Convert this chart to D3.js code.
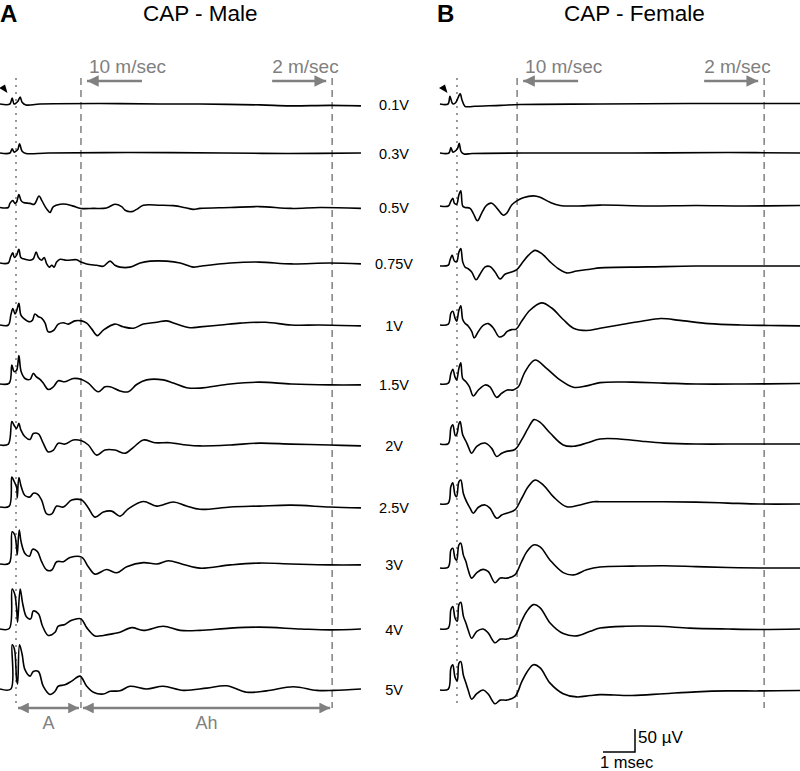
<!DOCTYPE html>
<html><head><meta charset="utf-8">
<script src="https://cdn.jsdelivr.net/npm/d3@7"></script>
<style>body{margin:0;background:#fff}svg{display:block;font-family:"Liberation Sans",Arial,sans-serif}</style>
</head><body>
<script>
// ---------- DATA (time in ms, amplitude in µV) ----------
const voltages = ["0.1V","0.3V","0.5V","0.75V","1V","1.5V","2V","2.5V","3V","4V","5V"];
const maleTraces = [
 [[0,0],[0.31,0],[0.38,13],[0.44,0],[0.5,2],[0.56,6],[0.63,15],[0.69,4],[0.81,-2],[1.25,0],[3.13,1],[5,0],[6.25,0],[8.13,-2],[9.06,-4],[10.31,-3],[11.28,-4]],
 [[0,0],[0.31,0],[0.38,9],[0.44,2],[0.5,4],[0.56,8],[0.61,20],[0.69,4],[0.81,-1],[1.5,0],[4,1],[7,0],[9,-1],[11.28,0]],
 [[0,0],[0.26,0],[0.31,9],[0.4,15],[0.47,9],[0.52,12],[0.59,28],[0.66,15],[0.73,11],[0.94,9],[1.07,7],[1.22,25],[1.3,16],[1.41,2],[1.49,-6],[1.56,-11],[1.67,2],[1.88,7],[2.08,7],[2.29,3],[2.53,-2],[2.92,-2],[3.33,-1],[3.59,7],[3.8,2],[3.91,-6],[4.12,-9],[4.27,-4],[4.48,5],[5,5],[5.42,4],[5.83,-1],[6.04,-4],[6.25,-2],[7.2,0],[8.1,2],[9.1,-2],[10,0],[11.28,-2]],
 [[0,0],[0.26,0],[0.33,13],[0.4,22],[0.45,12],[0.52,17],[0.59,30],[0.65,12],[0.73,9],[0.94,6],[1.04,9],[1.13,24],[1.2,12],[1.3,6],[1.38,12],[1.46,-2],[1.54,-9],[1.62,-5],[1.69,-9],[1.77,2],[1.88,8],[2.08,6],[2.4,7],[2.53,2],[2.71,-2],[3.02,-5],[3.23,-7],[3.44,4],[3.59,-5],[3.75,-9],[4.06,-9],[4.38,0],[4.69,4],[5.21,4],[5.63,0],[6.04,-9],[6.25,-7],[7.2,0],[8.1,2],[9.1,-2],[10.3,0],[11.28,-2]],
 [[0,0],[0.26,0],[0.34,22],[0.4,36],[0.47,24],[0.52,31],[0.59,47],[0.65,22],[0.73,15],[0.94,7],[1.02,11],[1.09,24],[1.2,18],[1.3,15],[1.41,4],[1.51,-15],[1.67,-12],[1.82,2],[1.98,5],[2.13,2],[2.34,9],[2.55,9],[2.71,4],[2.87,-9],[3.04,-23],[3.23,-11],[3.59,2],[3.85,-4],[4.17,-7],[4.48,2],[4.9,6],[5.21,9],[5.52,2],[5.94,-6],[6.25,-4],[6.9,0],[7.5,4],[8.3,6],[9.1,0],[10,0],[11.28,-2]],
 [[0,0],[0.29,2],[0.37,41],[0.44,27],[0.52,30],[0.59,62],[0.66,27],[0.78,12],[0.94,10],[1.04,23],[1.13,16],[1.25,10],[1.35,2],[1.51,-12],[1.67,-6],[1.82,7],[2.03,5],[2.29,12],[2.55,10],[2.76,2],[3.07,-17],[3.28,-6],[3.44,-6],[3.75,-15],[4.01,-17],[4.27,-1],[4.58,9],[5.1,9],[5.42,2],[5.83,-8],[6.25,-9],[7.2,0],[8.1,4],[9.1,0],[10.3,-2],[11.28,-2]],
 [[0,0],[0.26,2],[0.37,51],[0.44,43],[0.52,36],[0.59,47],[0.65,33],[0.78,18],[0.94,12],[1.04,25],[1.2,24],[1.35,4],[1.51,-15],[1.67,-11],[1.82,4],[2.03,2],[2.29,11],[2.55,9],[2.76,0],[3.02,-22],[3.28,-11],[3.59,-11],[3.91,-18],[4.17,-5],[4.48,11],[4.84,5],[5.31,5],[5.83,0],[6.25,-2],[7.2,0],[8.1,4],[9.1,2],[10.3,0],[11.28,-2]],
 [[0,0],[0.29,2],[0.37,65],[0.44,56],[0.52,42],[0.54,20],[0.59,64],[0.66,45],[0.78,25],[0.94,22],[1.04,30],[1.17,28],[1.3,15],[1.46,-15],[1.62,-15],[1.77,2],[1.98,0],[2.24,15],[2.55,15],[2.76,-2],[2.97,-22],[3.23,-11],[3.49,-9],[3.75,-20],[4.01,-4],[4.48,12],[4.9,2],[5.42,11],[5.83,2],[6.25,-5],[7.2,0],[8.1,2],[9.1,4],[10.3,0],[11.28,-2]],
 [[0,0],[0.29,2],[0.38,70],[0.46,63],[0.52,34],[0.54,20],[0.6,74],[0.66,48],[0.78,23],[0.92,17],[1.02,32],[1.17,27],[1.3,5],[1.46,-13],[1.62,-13],[1.77,5],[1.98,5],[2.19,14],[2.55,15],[2.76,-6],[2.97,-22],[3.33,-12],[3.65,-19],[3.96,-6],[4.48,3],[4.9,0],[5.26,7],[5.73,-1],[6.25,-9],[7.2,-2],[8.1,2],[9.1,0],[10.3,-2],[11.28,-2]],
 [[0,0],[0.29,1],[0.38,87],[0.46,76],[0.52,43],[0.55,15],[0.63,87],[0.71,55],[0.83,26],[0.96,22],[1.04,39],[1.2,33],[1.33,6],[1.51,-14],[1.72,-7],[1.82,6],[2.03,10],[2.24,19],[2.53,22],[2.71,3],[2.97,-15],[3.23,-14],[3.54,-10],[3.75,-7],[4.12,3],[4.48,-3],[5.1,6],[5.63,-3],[6.25,-3],[7.2,2],[8.1,4],[9.4,0],[10.3,-2],[11.28,0]],
 [[0,0],[0.34,0],[0.38,96],[0.45,87],[0.52,20],[0.55,11],[0.61,96],[0.69,76],[0.78,42],[0.94,28],[1.04,38],[1.2,38],[1.35,6],[1.56,-12],[1.72,-5],[1.82,6],[2.03,9],[2.24,17],[2.5,28],[2.71,6],[2.92,-7],[3.23,-11],[3.44,-5],[3.75,-4],[4.06,6],[4.58,0],[5.1,6],[5.73,-3],[6.46,2],[7.08,7],[7.71,-7],[8.33,-4],[9.17,5],[9.9,-3],[10.42,-3],[11.28,0]]
];
const femaleTraces = [
 [[0,0],[0.25,0],[0.31,17],[0.38,2],[0.42,0],[0.5,4],[0.63,22],[0.69,8],[0.78,-5],[0.9,-6],[1.1,-5],[1.9,-3],[2.5,-1],[5,0],[8,1],[11.25,1]],
 [[0,0],[0.28,0],[0.34,12],[0.4,2],[0.45,3],[0.55,10],[0.6,21],[0.66,3],[0.75,-2],[1,-1],[3,0],[6,0],[9,1],[11.25,0]],
 [[0,0],[0.26,0],[0.33,9],[0.4,17],[0.45,6],[0.52,4],[0.59,24],[0.65,33],[0.71,0],[0.78,-3],[0.94,-5],[1.04,-16],[1.17,-32],[1.3,-16],[1.46,2],[1.62,6],[1.77,-4],[1.98,-20],[2.08,-16],[2.24,2],[2.4,11],[2.6,18],[2.92,22],[3.13,19],[3.44,8],[3.75,1],[4.27,0],[5,2],[6.5,0],[8,1],[9.5,0],[11.25,1]],
 [[0,0],[0.26,2],[0.31,12],[0.38,23],[0.45,11],[0.52,9],[0.59,30],[0.65,38],[0.71,9],[0.78,-2],[0.88,-6],[0.99,-13],[1.13,-30],[1.25,-18],[1.41,-2],[1.56,-1],[1.72,-13],[1.88,-28],[2.03,-18],[2.24,-13],[2.4,-8],[2.55,5],[2.76,23],[2.97,34],[3.18,27],[3.44,9],[3.7,-6],[3.96,-15],[4.27,-11],[4.69,-7],[5,-4],[6.5,-2],[8,0],[9.5,0],[11.25,0]],
 [[0,0],[0.26,2],[0.34,26],[0.4,30],[0.47,15],[0.52,8],[0.59,32],[0.65,42],[0.71,12],[0.78,4],[0.88,-2],[0.99,-14],[1.07,-28],[1.2,-14],[1.35,-1],[1.51,3],[1.67,-7],[1.85,-26],[1.98,-23],[2.1,-14],[2.24,-10],[2.38,-9],[2.55,8],[2.81,32],[3.18,48],[3.49,37],[3.85,12],[4.17,-7],[4.58,-12],[5,-7],[5.6,0],[6.3,8],[6.9,14],[7.5,10],[8.4,3],[9.4,0],[10.3,-1],[11.25,-2]],
 [[0,0],[0.26,2],[0.34,23],[0.4,32],[0.47,15],[0.52,9],[0.59,34],[0.65,46],[0.71,12],[0.81,5],[0.92,-6],[1.04,-26],[1.2,-13],[1.41,-2],[1.56,-6],[1.77,-29],[1.93,-20],[2.1,-13],[2.29,-13],[2.45,-6],[2.66,27],[2.97,52],[3.33,34],[3.75,9],[4.17,-7],[4.58,-4],[5,3],[6,4],[7,2],[8,0],[9.5,0],[11.25,1]],
 [[0,0],[0.26,1],[0.34,35],[0.4,42],[0.48,18],[0.53,22],[0.59,44],[0.63,49],[0.71,20],[0.81,6],[0.88,-5],[0.99,-20],[1.15,-5],[1.41,2],[1.61,-9],[1.77,-27],[1.93,-20],[2.08,-16],[2.34,-12],[2.55,9],[2.76,35],[2.94,53],[3.13,47],[3.44,24],[3.85,-2],[4.17,-5],[4.58,2],[5,11],[5.6,11],[6.3,6],[7,2],[8,0],[9.5,0],[11.25,0]],
 [[0,0],[0.26,2],[0.34,38],[0.4,46],[0.47,20],[0.52,16],[0.59,48],[0.65,52],[0.73,23],[0.83,5],[0.94,-9],[1.04,-20],[1.2,-7],[1.41,-2],[1.56,-9],[1.77,-31],[1.93,-24],[2.08,-20],[2.34,-13],[2.55,12],[2.76,38],[2.97,52],[3.23,41],[3.54,16],[3.96,-6],[4.38,-2],[4.79,5],[5,5],[6,5],[7,5],[8,4],[9,2],[10,0],[11.25,0]],
 [[0,0],[0.26,2],[0.34,39],[0.4,43],[0.47,21],[0.52,17],[0.59,50],[0.65,54],[0.73,28],[0.81,14],[0.88,-4],[0.99,-22],[1.15,-10],[1.35,-3],[1.51,-8],[1.72,-32],[1.88,-22],[2.08,-22],[2.34,-15],[2.55,14],[2.71,35],[2.92,50],[3.13,46],[3.44,17],[3.85,-10],[4.17,-15],[4.58,-4],[5,2],[6,4],[7,5],[8,3],[9,1],[10,0],[11.25,0]],
 [[0,0],[0.26,2],[0.34,42],[0.4,49],[0.47,24],[0.54,17],[0.59,53],[0.65,58],[0.73,28],[0.81,13],[0.88,-2],[0.99,-20],[1.15,-5],[1.35,0],[1.51,-9],[1.72,-30],[1.88,-22],[2.08,-22],[2.34,-15],[2.55,17],[2.71,38],[2.92,53],[3.13,46],[3.44,13],[3.85,-10],[4.27,-15],[4.69,-5],[5,2],[5.8,6],[6.8,6],[7.8,2],[9,0],[10,-1],[11.25,0]],
 [[0,0],[0.26,2],[0.34,48],[0.4,55],[0.47,28],[0.54,20],[0.59,58],[0.65,62],[0.73,32],[0.81,15],[0.88,0],[0.99,-20],[1.15,-8],[1.35,0],[1.51,-9],[1.72,-30],[1.88,-22],[2.08,-22],[2.34,-15],[2.55,17],[2.71,38],[2.92,55],[3.13,48],[3.44,15],[3.85,-8],[4.27,-15],[4.69,-12],[5,-10],[6,-12],[7,-8],[8,-4],[9,-2],[10,-2],[11.25,-1]]
];
// reference latencies (ms): stimulus-locked dotted line, 10 m/s and 2 m/s cut-offs
const maleMarkers = [0.5, 2.53, 10.38];
const femaleMarkers = [0.53, 2.41, 10.13];
const panelTitles = ["CAP - Male", "CAP - Female"];
const panelLetters = ["A", "B"];
const speedLabels = ["10 m/sec", "2 m/sec"];
const rangeLabels = ["A", "Ah"];
const scaleBar = {ms: 1, uv: 50};

// ---------- LAYOUT ----------
const W = 800, H = 771;
const grey = "#808080";
const panelX = [0, 440];
const rowYA = [104,153,207.5,263,325,384,445,507,564,629,689];
const rowYB = [104,153,206,266,325,384,444,504,568,629,690];

const svg = d3.select("body").append("svg").attr("width", W).attr("height", H);
const defs = svg.append("defs");
defs.append("marker").attr("id","ah").attr("viewBox","0 0 10 10").attr("refX",10).attr("refY",5)
  .attr("markerWidth",5.5).attr("markerHeight",4.5).attr("markerUnits","strokeWidth").attr("orient","auto-start-reverse")
  .append("path").attr("d","M0,0L10,5L0,10z").attr("fill",grey);

const x = d3.scaleLinear().domain([0, 11.25]).range([0, 360]);
const y = d3.scaleLinear().domain([0, 50]).range([0, -23]);
const line = d3.line().x(d => x(d[0])).y(d => y(d[1])).curve(d3.curveCatmullRom.alpha(0.5));

function panel(i, traces, markers, rowY) {
  const g = svg.append("g").attr("transform", `translate(${panelX[i]},0)`);
  g.append("line").attr("x1", x(markers[0])).attr("x2", x(markers[0])).attr("y1", 78).attr("y2", 708)
    .attr("stroke", grey).attr("stroke-width", 1.6).attr("stroke-dasharray", "2,5");
  [1,2].forEach(k => g.append("line").attr("x1", x(markers[k])).attr("x2", x(markers[k])).attr("y1", 78).attr("y2", 708)
    .attr("stroke", grey).attr("stroke-width", 1.5).attr("stroke-dasharray", "7,5"));
  const xm1 = x(markers[1]), xm2 = x(markers[2]);
  g.append("line").attr("x1", xm1 + 61).attr("x2", xm1 + 6).attr("y1", 81).attr("y2", 81)
    .attr("stroke", grey).attr("stroke-width", 2.6).attr("marker-end", "url(#ah)");
  g.append("line").attr("x1", xm2 - 60).attr("x2", xm2 - 6).attr("y1", 81).attr("y2", 81)
    .attr("stroke", grey).attr("stroke-width", 2.6).attr("marker-end", "url(#ah)");
  g.append("text").attr("x", xm1 + 8).attr("y", 73).attr("fill", grey).attr("font-size", 19).text(speedLabels[0]);
  g.append("text").attr("x", xm2 - 60).attr("y", 73).attr("fill", grey).attr("font-size", 19).text(speedLabels[1]);
  g.append("path").attr("d", "M-1,88L5,84.5L7.5,93z").attr("fill", "#000");
  traces.forEach((tr, r) => {
    g.append("path").attr("transform", `translate(0,${rowY[r]})`).attr("d", line(tr))
      .attr("fill", "none").attr("stroke", "#000").attr("stroke-width", 1.6).attr("stroke-linejoin","round");
  });
  g.append("text").attr("x", i ? -3 : 0).attr("y", 22).attr("font-size", 24).attr("font-weight", "bold").text(panelLetters[i]);
  g.append("text").attr("x", i ? 124 : 143).attr("y", 21).attr("font-size", 22.5).text(panelTitles[i]);
  return g;
}
const gA = panel(0, maleTraces, maleMarkers, rowYA);
panel(1, femaleTraces, femaleMarkers, rowYB);

svg.append("g").selectAll("text").data(voltages).join("text")
  .attr("x", 394).attr("y", (d, i) => rowYA[i] + 5.5).attr("text-anchor", "middle").attr("font-size", 14.5).text(d => d);

const m = maleMarkers;
[[m[0], m[1]], [m[1], m[2]]].forEach((p, k) => {
  gA.append("line").attr("x1", x(p[0]) + 2).attr("x2", x(p[1]) - 2).attr("y1", 708).attr("y2", 708)
    .attr("stroke", grey).attr("stroke-width", 2.4).attr("marker-start", "url(#ah)").attr("marker-end", "url(#ah)");
  gA.append("text").attr("x", (x(p[0]) + x(p[1])) / 2).attr("y", 729).attr("text-anchor", "middle")
    .attr("fill", grey).attr("font-size", 18).text(rangeLabels[k]);
});

const sb = svg.append("g").attr("transform", "translate(603,752)");
sb.append("path").attr("d", `M0,0H${x(scaleBar.ms)}V${y(scaleBar.uv)}`).attr("fill", "none").attr("stroke", "#000").attr("stroke-width", 1.5);
sb.append("text").attr("x", x(scaleBar.ms) + 3).attr("y", -9).attr("font-size", 17).text("50 µV");
sb.append("text").attr("x", -3).attr("y", 16).attr("font-size", 16.5).text("1 msec");
</script>
</body></html>
